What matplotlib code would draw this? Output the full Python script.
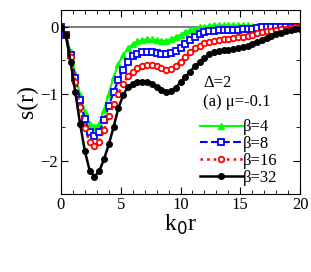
import numpy as np
import matplotlib
matplotlib.use('Agg')
import matplotlib.pyplot as plt
from matplotlib.ticker import MultipleLocator

plt.rcParams['font.family'] = ['Liberation Serif', 'DejaVu Serif']

# sampling grid k0*r
r = np.linspace(0, 20, 51)

s_beta4 = [0, -0.11, -0.38, -0.70, -1.02, -1.27, -1.45, -1.50, -1.45, -1.25,
           -1.00, -0.75, -0.56, -0.42, -0.32, -0.26, -0.22, -0.20, -0.19, -0.19,
           -0.20, -0.21, -0.21, -0.19, -0.15, -0.12, -0.08, -0.05, -0.03, -0.01,
           0.0, 0.01, 0.02, 0.02, 0.02, 0.02, 0.02, 0.02, 0.02, 0.02,
           0.01, 0.01, 0.0, 0.0, 0.0, 0.0, 0.0, 0.0, 0.0, 0.0, 0.0]
s_beta8 = [0, -0.12, -0.42, -0.76, -1.10, -1.38, -1.58, -1.63, -1.58, -1.40,
           -1.18, -0.98, -0.80, -0.64, -0.52, -0.44, -0.40, -0.38, -0.37, -0.38,
           -0.39, -0.40, -0.40, -0.39, -0.36, -0.32, -0.26, -0.20, -0.15, -0.11,
           -0.08, -0.07, -0.06, -0.05, -0.05, -0.05, -0.05, -0.05, -0.04, -0.04,
           -0.03, -0.02, -0.01, 0.0, 0.0, 0.0, 0.0, 0.0, 0.0, 0.0, 0.0]
s_beta16 = [0, -0.12, -0.45, -0.82, -1.20, -1.52, -1.72, -1.78, -1.72, -1.55,
            -1.33, -1.15, -1.00, -0.85, -0.74, -0.67, -0.62, -0.58, -0.57, -0.57,
            -0.59, -0.62, -0.64, -0.63, -0.58, -0.52, -0.45, -0.38, -0.32, -0.28,
            -0.25, -0.23, -0.21, -0.20, -0.19, -0.18, -0.17, -0.16, -0.15, -0.14,
            -0.12, -0.10, -0.08, -0.07, -0.06, -0.05, -0.04, -0.03, -0.02, -0.01, -0.01]
s_beta32 = [0, -0.12, -0.52, -0.98, -1.45, -1.86, -2.15, -2.24, -2.16, -1.98,
            -1.76, -1.50, -1.22, -1.02, -0.90, -0.85, -0.83, -0.82, -0.83, -0.86,
            -0.90, -0.94, -0.97, -0.96, -0.91, -0.83, -0.75, -0.67, -0.59, -0.52,
            -0.46, -0.41, -0.38, -0.36, -0.35, -0.34, -0.33, -0.32, -0.30, -0.28,
            -0.26, -0.23, -0.20, -0.17, -0.14, -0.11, -0.09, -0.07, -0.05, -0.04, -0.03]

fig = plt.figure(figsize=(3.11, 2.72), dpi=100)
ax = fig.add_axes([0.196, 0.287, 0.769, 0.676])

ax.axhline(0, color='gray', lw=1.5, zorder=1)
ax.plot(r, s_beta4, '-', color='#00ff00', lw=1.5, marker='^', ms=4, label='β=4')
ax.plot(r, s_beta8, '--', color='#0000ff', lw=1.5, marker='s', ms=4, mfc='white', mew=1.3, label='β=8')
ax.plot(r, s_beta16, ':', color='#ff0000', lw=1.8, marker='o', ms=4, mfc='white', mew=1.3, label='β=16')
ax.plot(r, s_beta32, '-', color='black', lw=1.8, marker='o', ms=4, label='β=32')

ax.set_xlim(0, 20)
ax.set_ylim(-2.5, 0.25)
ax.xaxis.set_major_locator(MultipleLocator(5))
ax.xaxis.set_minor_locator(MultipleLocator(1))
ax.yaxis.set_major_locator(MultipleLocator(1))
ax.yaxis.set_minor_locator(MultipleLocator(0.5))
ax.tick_params(which='both', direction='in', top=True, right=True, labelsize=12, pad=2)
ax.tick_params(which='major', length=5)
ax.tick_params(which='minor', length=3)

ax.set_xlabel(r'k$_0$r', fontsize=17, labelpad=0)
ax.set_ylabel('s(r)', fontsize=17, labelpad=2)

ax.text(0.595, 0.58, 'Δ=2', transform=ax.transAxes, fontsize=12)
ax.text(0.595, 0.48, '(a) μ=-0.1', transform=ax.transAxes, fontsize=12)

ax.legend(loc='lower right', bbox_to_anchor=(0.955, -0.02), frameon=False, fontsize=12,
          handlelength=2.6, handletextpad=0.0, labelspacing=0.05, borderpad=0.2)

plt.savefig('out.png', dpi=100)
